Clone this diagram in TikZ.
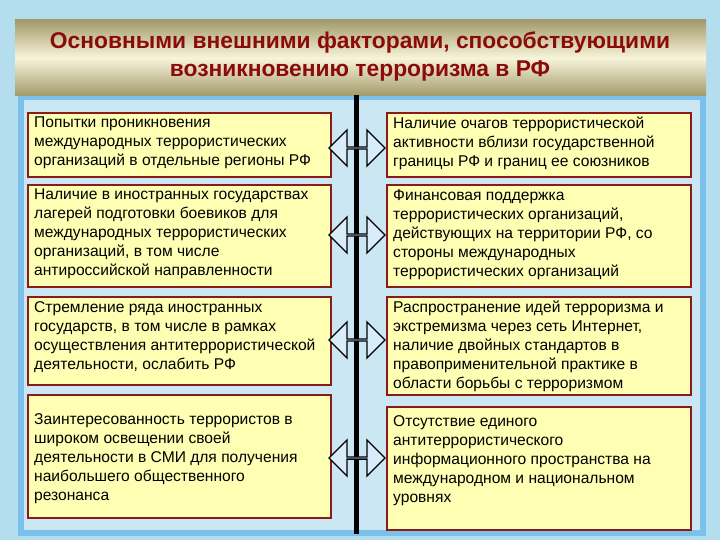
\documentclass[tikz,border=0pt]{standalone}
\usepackage{fontspec}
\setmainfont{Liberation Sans}
\usetikzlibrary{shapes.arrows}
\definecolor{bgblue}{HTML}{B4DDEE}
\definecolor{panel}{HTML}{7CC0EC}
\definecolor{boxfill}{HTML}{FFFFB4}
\definecolor{boxline}{HTML}{8B1A1A}
\definecolor{titred}{HTML}{8B0A0A}
\definecolor{arrfill}{HTML}{D8ECFA}
\definecolor{khaki1}{HTML}{A39A6A}
\definecolor{khaki2}{HTML}{F7F4DA}
\tikzset{
  box/.style={draw=boxline,line width=2.2pt,fill=boxfill,anchor=north west,inner sep=0pt},
  btext/.style={anchor=north west,align=left,inner sep=0pt,font=\fontsize{15.6}{19}\selectfont},
  darr/.style={double arrow,draw=black,line width=1.3pt,fill=arrfill,minimum width=36pt,minimum height=56pt,double arrow head extend=10pt,inner sep=0pt}
}
\begin{document}
\begin{tikzpicture}[x=1pt,y=-1pt]
\useasboundingbox (0,0) rectangle (720,540);
\fill[bgblue] (0,0) rectangle (720,540);
\fill[panel] (18,95) rectangle (706,536);
\fill[bgblue!70!white] (24,100) rectangle (700,530);
\shade[top color=khaki1, bottom color=khaki1, middle color=khaki2] (15,20) rectangle (706,96);
\node[font=\bfseries\fontsize{22.8}{28}\selectfont,text=titred,align=center] (title) at (360,57) {Основными внешними факторами, способствующими\\возникновению терроризма в РФ};
\draw[black,line width=5pt] (356,95) -- (356,534);
% boxes
\node[box,minimum width=303pt,minimum height=64pt] (l1) at (27,112) {};
\node[box,minimum width=304pt,minimum height=64pt] (r1) at (386,112) {};
\node[box,minimum width=303pt,minimum height=102pt] (l2) at (27,184) {};
\node[box,minimum width=304pt,minimum height=102pt] (r2) at (386,184) {};
\node[box,minimum width=303pt,minimum height=88pt] (l3) at (27,296) {};
\node[box,minimum width=304pt,minimum height=98pt] (r3) at (386,296) {};
\node[box,minimum width=303pt,minimum height=123pt] (l4) at (27,394) {};
\node[box,minimum width=304pt,minimum height=123pt] (r4) at (386,406) {};
\node[btext] (tl1) at (34,117) {Попытки проникновения\\международных террористических\\организаций в отдельные регионы РФ};
\node[btext] (tr1) at (393,117) {Наличие очагов террористической\\активности вблизи государственной\\границы РФ и границ ее союзников};
\node[btext] (tl2) at (34,189) {Наличие в иностранных государствах\\лагерей подготовки боевиков для\\международных террористических\\организаций, в том числе\\антироссийской направленности};
\node[btext] (tr2) at (393,189) {Финансовая поддержка\\террористических организаций,\\действующих на территории РФ, со\\стороны международных\\террористических организаций};
\node[btext] (tl3) at (34,301) {Стремление ряда иностранных\\государств, в том числе в рамках\\осуществления антитеррористической\\деятельности, ослабить РФ};
\node[btext] (tr3) at (393,301) {Распространение идей терроризма и\\экстремизма через сеть Интернет,\\наличие двойных стандартов в\\правоприменительной практике в\\области борьбы с терроризмом};
\node[btext] (tl4) at (34,413) {Заинтересованность террористов в\\широком освещении своей\\деятельности в СМИ для получения\\наибольшего общественного\\резонанса};
\node[btext] (tr4) at (393,415) {Отсутствие единого\\антитеррористического\\информационного пространства на\\международном и национальном\\уровнях};
\node[darr] (a1) at (357,148) {};
\node[darr] (a2) at (357,235) {};
\node[darr] (a3) at (357,340) {};
\node[darr] (a4) at (357,458) {};
\end{tikzpicture}
\end{document}
